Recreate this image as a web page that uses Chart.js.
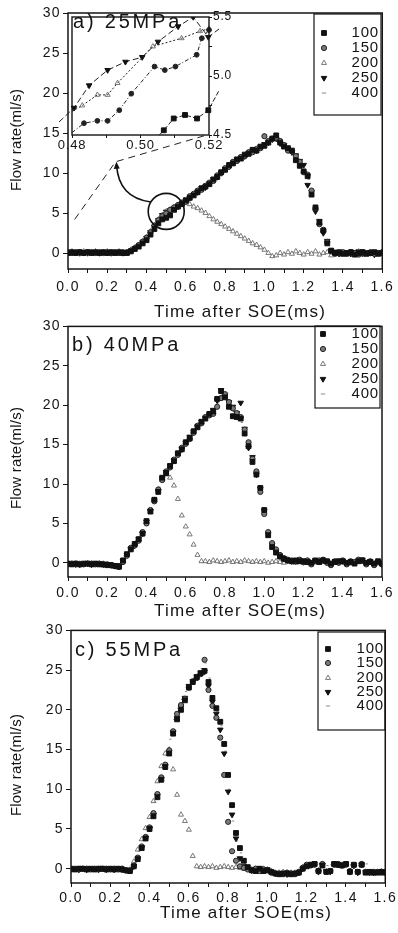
<!DOCTYPE html>
<html>
<head>
<meta charset="utf-8">
<script src="https://cdn.jsdelivr.net/npm/chart.js@4.4.1/dist/chart.umd.min.js"></script>
<style>
  body { margin: 0; background: #fff; }
  #wrap { position: relative; width: 398px; height: 933px; overflow: hidden; }
  #wrap canvas { position: absolute; }
</style>
</head>
<body>
<div id="wrap">
  <canvas id="cA" width="398" height="326" style="left:0;top:0"></canvas>
  <canvas id="cI" width="200" height="160" style="left:50px;top:0"></canvas>
  <canvas id="cB" width="398" height="304" style="left:0;top:316px"></canvas>
  <canvas id="cC" width="398" height="313" style="left:0;top:620px"></canvas>
</div>
<script>
// ---- data ----
const seriesNames = ['100', '150', '200', '250', '400'];
const xMajor = [0, 0.2, 0.4, 0.6, 0.8, 1.0, 1.2, 1.4, 1.6];
const xMinor = [0.1, 0.3, 0.5, 0.7, 0.9, 1.1, 1.3, 1.5];
const yMajor = [0, 5, 10, 15, 20, 25, 30];

// time after SOE (ms), shared by all series
const time = [0,0.02,0.04,0.06,0.08,0.1,0.12,0.14,0.16,0.18,
  0.2,0.22,0.24,0.26,0.28,0.3,0.32,0.34,0.36,0.38,
  0.4,0.42,0.44,0.46,0.48,0.5,0.52,0.54,0.56,0.58,
  0.6,0.62,0.64,0.66,0.68,0.7,0.72,0.74,0.76,0.78,
  0.8,0.82,0.84,0.86,0.88,0.9,0.92,0.94,0.96,0.98,
  1,1.02,1.04,1.06,1.08,1.1,1.12,1.14,1.16,1.18,
  1.2,1.22,1.24,1.26,1.28,1.3,1.32,1.34,1.36,1.38,
  1.4,1.42,1.44,1.46,1.48,1.5,1.52,1.54,1.56,1.58,1.6];

// a) 25 MPa
const a100 = [0.0,0.1,0.0,0.1,0.0,0.1,0.0,0.1,0.0,0.1,
  0.0,0.1,0.0,0.1,0.0,0.0,0.2,0.5,0.8,1.2,
  1.6,2.3,3.0,3.7,4.2,4.4,4.7,5.4,5.8,6.1,
  6.6,6.9,7.2,7.6,8.1,8.3,8.6,9.2,9.5,10.1,
  10.4,11.0,11.2,11.7,11.8,12.3,12.4,12.9,12.8,13.3,
  13.4,13.8,14.3,14.7,13.8,13.3,13.1,12.8,11.6,10.9,
  10.2,9.6,7.3,5.7,3.8,2.8,1.2,0.3,0.0,0.1,
  -0.1,0.0,0.1,-0.2,0.0,0.1,-0.1,0.0,0.1,-0.1,0.0];
const a150 = [0.1,0.0,0.1,0.1,0.0,0.1,0.1,0.0,0.1,0.0,
  0.1,0.0,0.1,0.0,0.1,0.1,0.3,0.6,1.0,1.4,
  1.9,2.6,3.4,4.1,4.6,4.95,5.4,5.7,6.0,6.3,
  6.4,7.1,7.4,7.8,7.9,8.4,8.8,9.0,9.7,10.0,
  10.6,10.8,11.4,11.5,12.0,12.1,12.6,12.6,13.0,13.1,
  14.6,14.0,14.3,14.4,14.0,13.5,12.8,12.7,12.1,11.4,
  10.1,9.8,7.8,5.6,3.6,2.9,1.4,0.2,-0.1,0.0,
  0.1,-0.1,0.1,0.0,-0.2,0.1,0.0,0.1,-0.1,0.0,0.1];
const a200 = [0.1,0.2,0.1,0.1,0.2,0.1,0.1,0.2,0.1,0.1,
  0.2,0.1,0.1,0.2,0.0,0.1,0.4,0.7,1.0,1.5,
  2.0,2.7,3.5,4.2,4.75,5.2,5.4,5.7,6.0,6.3,
  6.4,6.1,5.8,5.6,5.3,5.0,4.6,4.2,3.9,3.6,
  3.3,3.0,2.7,2.4,2.1,1.8,1.5,1.2,1.0,0.7,
  0.4,0.0,-0.4,-0.3,0.0,-0.2,0.1,-0.1,0.2,0.0,
  -0.2,0.1,-0.1,0.2,-0.2,0.0,0.1,-0.3,0.1,-0.1,
  0.0,-0.2,0.1,-0.1,0.2,-0.2,0.0,0.1,-0.1,0.0,0.1];
const a250 = [0.0,0.1,0.1,0.0,0.1,0.0,0.1,0.1,0.0,0.1,
  0.1,0.0,0.1,0.1,0.0,0.1,0.3,0.6,0.9,1.4,
  1.9,2.6,3.3,4.1,4.73,5.16,5.33,5.6,5.8,6.2,
  6.5,6.9,7.3,7.6,8.1,8.2,8.7,9.2,9.5,10.0,
  10.5,10.8,11.3,11.7,11.9,12.1,12.5,12.8,12.8,13.3,
  13.6,13.8,14.2,14.3,13.7,13.5,12.9,12.6,12.2,11.5,
  11.0,8.5,7.6,5.2,4.0,2.5,1.5,0.3,0.1,-0.1,
  0.1,0.0,-0.1,0.1,0.2,-0.1,0.1,0.0,-0.2,0.1,0.0];
const a400 = [0.1,0.1,0.0,0.1,0.1,0.1,0.0,0.1,0.1,0.1,
  0.0,0.1,0.1,0.0,0.1,0.1,0.3,0.6,0.9,1.3,
  1.8,2.5,3.3,4.0,4.8,5.3,5.5,5.7,6.0,6.3,
  6.6,7.0,7.4,7.7,8.0,8.4,8.8,9.1,9.6,10.1,
  10.5,10.9,11.2,11.6,11.9,12.2,12.4,12.7,13.0,13.2,
  13.5,13.9,14.2,14.4,13.8,13.6,13.0,12.5,12.0,11.3,
  10.4,9.2,7.4,5.5,3.9,2.6,1.3,0.2,0.0,0.1,
  -0.1,0.1,0.0,-0.1,0.1,0.2,-0.1,0.0,0.1,-0.1,0.1];

// b) 40 MPa
const b100 = [-0.1,-0.2,-0.1,-0.2,-0.1,-0.1,-0.2,-0.1,-0.2,-0.2,
  -0.3,-0.3,-0.4,-0.5,0.3,1.1,1.7,2.4,3.0,3.7,
  5.3,6.5,8.0,9.0,10.8,11.4,12.3,12.9,13.9,14.4,
  15.3,15.8,16.7,17.2,17.9,18.3,18.9,19.2,20.8,21.8,
  21.0,19.8,18.6,18.5,18.3,16.4,14.8,12.8,11.2,9.5,
  6.7,3.5,2.0,1.3,0.8,0.5,0.3,0.2,0.3,0.2,
  0.2,0.1,0.0,0.3,0.1,0.3,0.2,-0.1,0.1,0.2,
  0.2,0.0,0.1,-0.1,0.2,0.3,0.0,0.1,-0.1,0.2,-0.1];
const b150 = [-0.2,-0.1,-0.1,-0.2,-0.2,-0.1,-0.1,-0.2,-0.1,-0.2,
  -0.2,-0.3,-0.4,-0.4,0.1,0.9,1.9,2.2,2.8,3.9,
  5.0,6.7,7.8,9.3,10.5,11.6,12.1,13.1,13.7,14.6,
  15.1,15.7,16.5,17.4,17.7,18.5,18.7,18.9,19.8,20.9,
  21.4,20.4,19.6,19.0,18.5,16.9,15.3,13.2,11.6,9.0,
  6.2,3.9,2.5,1.7,1.0,0.6,0.4,0.3,0.2,0.4,
  0.1,0.3,-0.2,0.2,0.3,0.4,0.0,-0.3,0.2,0.0,
  0.3,-0.2,0.2,0.1,0.4,0.3,-0.2,0.2,-0.3,0.1,-0.2];
const b200 = [-0.1,-0.1,-0.2,-0.1,-0.2,-0.1,-0.1,-0.2,-0.1,-0.1,
  -0.2,-0.3,-0.4,-0.4,0.3,1.0,1.8,2.4,3.0,3.8,
  5.1,6.5,8.0,9.3,10.5,11.2,10.8,9.8,8.1,6.0,
  4.6,3.6,2.3,1.0,0.2,0.2,0.1,0.3,0.2,0.1,
  0.2,0.3,0.1,0.2,0.1,0.3,0.2,0.1,0.2,0.1,
  0.2,0.0,0.1,0.2,0.1,0.0,0.2,0.1,0.0,0.1,
  0.0,0.1,-0.1,0.1,0.0,0.2,0.1,-0.1,0.0,0.1,
  0.1,-0.1,0.0,0.1,0.2,0.1,-0.1,0.0,-0.1,0.1,-0.1];
const b250 = [-0.1,-0.1,-0.2,-0.2,-0.1,-0.1,-0.2,-0.1,-0.1,-0.2,
  -0.2,-0.3,-0.4,-0.5,0.2,1.0,1.8,2.2,3.0,3.7,
  5.2,6.6,7.9,9.1,10.7,11.5,12.3,13.0,13.8,14.4,
  15.2,16.0,16.6,17.3,17.9,18.4,18.8,19.4,20.6,21.9,
  21.3,20.4,19.8,19.0,20.3,17.0,14.6,13.4,11.2,9.4,
  6.6,3.7,2.3,1.4,0.9,0.5,0.3,0.2,0.2,0.3,
  0.1,0.2,0.0,0.3,0.2,0.3,0.1,-0.1,0.2,0.1,
  0.2,0.0,0.1,0.1,0.3,0.4,0.0,0.2,-0.1,0.1,-0.2];
const b400 = [-0.1,-0.1,-0.1,-0.2,-0.1,-0.1,-0.2,-0.1,-0.2,-0.1,
  -0.2,-0.3,-0.4,-0.5,0.4,1.2,2.0,2.5,3.2,4.0,
  5.5,6.9,8.2,9.6,10.9,11.8,12.5,13.2,14.0,14.7,
  15.4,16.1,16.8,17.5,18.0,18.5,18.9,19.5,20.3,21.3,
  21.0,20.0,19.2,18.6,17.8,16.5,14.9,12.9,11.3,9.0,
  6.3,3.6,2.2,1.5,0.8,0.5,0.4,0.4,0.3,0.2,
  0.3,0.2,-0.1,0.3,0.2,0.4,0.2,-0.2,0.3,0.2,
  0.3,0.0,0.2,-0.1,0.3,0.5,-0.1,0.3,-0.2,0.2,-0.3];

// c) 55 MPa
const c100 = [0.0,-0.1,0.0,0.0,-0.1,0.0,-0.1,0.0,0.0,-0.1,
  0.0,-0.1,0.0,-0.1,-0.2,-0.3,0.3,1.2,2.6,3.8,
  5.0,6.6,9.0,11.2,12.8,14.5,17.0,18.8,20.0,21.2,
  22.8,23.5,24.1,24.6,24.9,23.5,21.5,20.2,18.5,15.7,
  11.8,8.0,4.5,2.6,1.0,0.2,-0.2,-0.3,0.0,-0.3,
  -0.2,-0.4,-0.6,-0.7,-0.6,-0.6,-0.7,-0.6,-0.5,0.0,
  0.3,0.5,0.6,-0.3,0.4,-0.4,-0.3,0.6,0.5,0.4,
  0.6,-0.4,0.5,-0.4,0.5,-0.5,-0.4,-0.5,-0.5,-0.4,-0.5];
const c150 = [-0.1,0.0,-0.1,0.0,0.0,-0.1,0.0,-0.1,0.0,0.0,
  -0.1,0.0,-0.1,0.0,-0.2,-0.2,0.4,1.4,2.8,4.0,
  5.2,7.0,9.4,11.5,13.1,14.9,17.3,19.5,20.6,21.4,
  22.8,23.6,24.0,24.5,26.3,22.5,20.5,19.0,16.5,11.8,
  5.9,2.2,1.0,0.3,0.1,-0.1,-0.2,0.0,-0.3,-0.1,
  -0.2,-0.5,-0.6,-0.6,-0.7,-0.5,-0.6,-0.7,-0.4,0.1,
  0.5,0.4,0.5,-0.3,0.6,-0.4,-0.3,0.5,0.6,0.4,
  0.5,-0.3,0.4,-0.4,0.6,-0.4,-0.5,-0.4,-0.4,-0.5,-0.4];
const c200 = [0.0,-0.1,0.0,-0.1,0.0,-0.1,0.0,0.0,-0.1,0.0,
  -0.1,0.0,-0.1,0.0,-0.2,-0.1,0.9,2.4,3.7,5.1,
  6.5,8.5,11.0,12.9,14.5,15.0,12.5,9.3,6.8,6.0,
  4.9,1.6,0.3,0.2,0.3,0.2,0.3,0.1,0.2,0.3,
  0.2,0.1,0.2,0.1,0.0,0.1,-0.1,0.0,-0.1,0.0,
  -0.1,-0.3,-0.5,-0.5,-0.4,-0.5,-0.5,-0.5,-0.4,0.2,
  0.4,0.5,0.5,-0.2,0.5,-0.3,-0.3,0.5,0.4,0.5,
  0.5,-0.3,0.4,-0.4,0.5,-0.4,-0.4,-0.4,-0.4,-0.3,-0.4];
const c250 = [0.0,0.0,-0.1,0.0,-0.1,0.0,0.0,-0.1,0.0,-0.1,
  0.0,-0.1,0.0,-0.1,-0.2,-0.2,0.3,1.3,2.7,3.9,
  5.1,6.8,9.2,11.3,12.9,14.7,17.2,19.0,20.3,21.5,
  23.0,23.6,24.2,24.7,24.8,23.0,21.0,19.5,17.5,14.5,
  9.7,6.8,3.8,1.3,0.3,0.0,-0.2,-0.2,0.0,-0.2,
  -0.1,-0.4,-0.6,-0.6,-0.6,-0.7,-0.6,-0.6,-0.5,0.0,
  0.4,0.5,0.6,-0.4,0.5,-0.3,-0.4,0.6,0.5,0.5,
  0.6,-0.4,0.4,-0.5,0.5,-0.4,-0.5,-0.5,-0.4,-0.4,-0.5];
const c400 = [0.0,0.0,0.0,0.0,0.0,0.0,0.0,0.0,0.0,0.0,
  0.0,0.0,0.0,0.0,-0.1,-0.2,0.8,2.2,3.6,5.0,
  6.4,8.4,10.9,12.8,14.3,16.3,18.8,20.2,21.3,22.3,
  23.2,23.9,24.6,25.2,25.9,24.0,21.5,19.8,18.0,14.8,
  10.0,6.0,3.5,2.0,0.6,0.2,0.1,0.2,0.1,0.2,
  0.1,-0.3,-0.5,-0.6,-0.5,-0.6,-0.5,-0.6,-0.4,0.3,
  0.5,0.6,0.6,0.6,0.5,0.4,0.5,0.6,0.5,0.6,
  0.6,0.5,0.5,0.4,0.5,0.6,-0.4,-0.4,-0.5,-0.4,-0.5];

// inset of a), 0.48-0.52 ms
const insetXTicks = [0.48, 0.49, 0.50, 0.51, 0.52];
const insetXLabels = [0.48, 0.50, 0.52];
const insetYTicks = [4.5, 4.75, 5.0, 5.25, 5.5];
const insetYLabels = [4.5, 5.0, 5.5];
const insetT100 = [0.5055, 0.5068, 0.5097, 0.5130, 0.5165, 0.5198, 0.5228];
const insetV100 = [4.50, 4.54, 4.64, 4.67, 4.64, 4.71, 4.87];
const insetT150 = [0.4800, 0.4835, 0.4874, 0.4904, 0.4938, 0.4973, 0.5041, 0.5071, 0.5102, 0.5164, 0.5179, 0.5200];
const insetV150 = [4.52, 4.60, 4.62, 4.62, 4.71, 4.85, 5.08, 5.05, 5.08, 5.18, 5.32, 5.39];
const insetT200 = [0.4800, 0.4830, 0.4874, 0.4904, 0.4933, 0.5036, 0.5120, 0.5174, 0.5200];
const insetV200 = [4.70, 4.75, 4.84, 4.84, 4.94, 5.25, 5.32, 5.38, 5.40];
const insetT250 = [0.4762, 0.4806, 0.4850, 0.4904, 0.4956, 0.5005, 0.5051, 0.5110, 0.5154, 0.5198, 0.5230];
const insetV250 = [4.61, 4.73, 4.92, 5.05, 5.12, 5.16, 5.29, 5.42, 5.50, 5.33, 5.40];

// ---- styling ----
const font = "'Liberation Sans', Arial, Helvetica, sans-serif";
const ink = '#141414';
const markers = [
  { style: 'rect', r: 3.4, rot: 0, fill: '#111', stroke: '#111', bw: 1 },
  { style: 'circle', r: 2.6, rot: 0, fill: '#7a7a7a', stroke: '#222', bw: 1 },
  { style: 'triangle', r: 2.9, rot: 0, fill: 'rgba(0,0,0,0)', stroke: '#6a6a6a', bw: 0.9 },
  { style: 'triangle', r: 3.2, rot: 180, fill: '#111', stroke: '#111', bw: 1 },
  { style: 'dash', r: 2.2, rot: 0, fill: '#8a8a8a', stroke: '#8a8a8a', bw: 1 }
];

function drawMarker(ctx, m, x, y) {
  ctx.save();
  ctx.fillStyle = m.fill; ctx.strokeStyle = m.stroke; ctx.lineWidth = m.bw;
  ctx.beginPath();
  const r = m.r;
  if (m.style === 'rect') { const s = r * Math.SQRT1_2; ctx.rect(x - s, y - s, 2 * s, 2 * s); }
  else if (m.style === 'circle') ctx.arc(x, y, r, 0, Math.PI * 2);
  else if (m.style === 'triangle') {
    const d = m.rot ? -1 : 1;
    ctx.moveTo(x, y - d * r);
    ctx.lineTo(x - r * 0.866, y + d * r * 0.5);
    ctx.lineTo(x + r * 0.866, y + d * r * 0.5);
    ctx.closePath();
  } else { ctx.moveTo(x - r, y); ctx.lineTo(x + r, y); }
  if (m.style !== 'dash') ctx.fill();
  ctx.stroke();
  ctx.restore();
}

function drawText(ctx, txt, x, y, size, spacing, align) {
  ctx.save();
  ctx.font = size + 'px ' + font;
  ctx.letterSpacing = spacing + 'px';
  ctx.fillStyle = ink;
  ctx.textAlign = align || 'left';
  ctx.textBaseline = 'middle';
  ctx.fillText(txt, x, y);
  ctx.restore();
}

// layout of the three panels (page pixels)
const panels = [
  { id: 'cA', top: 0, h: 326, left: 68, right: 384, pTop: 13, pBot: 269, yMin: -2, tickPad: 6,
    vals: [a100, a150, a200, a250, a400], label: 'a) 25MPa', labelX: 73, labelY: 22,
    yTitleY: 140, xTitleX: 240, xTitleY: 312,
    legend: { x: 314, y: 14, w: 67, h: 101, rows: [33, 48, 63, 78, 93], mx: 324, tx: 379 } },
  { id: 'cB', top: 316, h: 304, left: 68, right: 382, pTop: 323, pBot: 577, yMin: -1.8, tickPad: 4,
    vals: [b100, b150, b200, b250, b400], label: 'b) 40MPa', labelX: 72, labelY: 345,
    yTitleY: 458, xTitleX: 240, xTitleY: 611,
    legend: { x: 315, y: 326, w: 65, h: 82, rows: [334, 349, 364, 379, 394], mx: 323, tx: 379 } },
  { id: 'cC', top: 620, h: 313, left: 71, right: 386, pTop: 630, pBot: 883, yMin: -1.8, tickPad: 3,
    vals: [c100, c150, c200, c250, c400], label: 'c) 55MPa', labelX: 75, labelY: 650,
    yTitleY: 765, xTitleX: 246, xTitleY: 913,
    legend: { x: 318, y: 632, w: 67, h: 98, rows: [649, 663, 678, 692, 706], mx: 328, tx: 384 } }
];

function drawPanelLabel(ctx, p, dx, dy) {
  drawText(ctx, p.label, p.labelX - dx, p.labelY - dy, 20, 2.8, 'left');
}

function framePlugin(p) {
  return {
    id: 'frame' + p.id,
    beforeDraw(chart) { chart.ctx.letterSpacing = '1.4px'; },
    afterDatasetsDraw(chart) {
      if (p.id !== 'cA') return;
      // zoom circle, arrow and link to the inset
      const ctx = chart.ctx, xs = chart.scales.x, ys = chart.scales.y;
      const linkX = [0.034, 0.242, 0.714], linkY = [4.2, 11.4, 14.8];
      ctx.save();
      ctx.strokeStyle = '#222'; ctx.lineWidth = 1;
      ctx.setLineDash([7, 5]);
      ctx.beginPath();
      linkX.forEach((v, i) => {
        const px = xs.getPixelForValue(v), py = ys.getPixelForValue(linkY[i]);
        i ? ctx.lineTo(px, py) : ctx.moveTo(px, py);
      });
      ctx.stroke();
      ctx.setLineDash([]);
      const cx = xs.getPixelForValue(0.5), cy = ys.getPixelForValue(5.2), r = 18;
      ctx.lineWidth = 1.6; ctx.strokeStyle = '#111';
      ctx.beginPath(); ctx.arc(cx, cy, r, 0, Math.PI * 2); ctx.stroke();
      const sx = cx - r * Math.cos(0.55), sy = cy - r * Math.sin(0.55);
      const ex = xs.getPixelForValue(0.242) + 1, ey = ys.getPixelForValue(11.4) + 3;
      const kx = ex + 2, ky = sy - 4;
      ctx.beginPath(); ctx.moveTo(sx, sy); ctx.quadraticCurveTo(kx, ky, ex, ey); ctx.stroke();
      const ang = Math.atan2(ey - ky, ex - kx);
      ctx.fillStyle = '#111';
      ctx.beginPath();
      ctx.moveTo(ex + Math.cos(ang) * 3, ey + Math.sin(ang) * 3);
      ctx.lineTo(ex - Math.cos(ang) * 4 + Math.sin(ang) * 3, ey - Math.sin(ang) * 4 - Math.cos(ang) * 3);
      ctx.lineTo(ex - Math.cos(ang) * 4 - Math.sin(ang) * 3, ey - Math.sin(ang) * 4 + Math.cos(ang) * 3);
      ctx.closePath(); ctx.fill();
      ctx.restore();
    },
    afterDraw(chart) {
      const ctx = chart.ctx, a = chart.chartArea, t = p.top;
      ctx.save();
      ctx.strokeStyle = ink; ctx.lineWidth = 1.5;
      ctx.strokeRect(a.left, a.top, a.right - a.left, a.bottom - a.top);
      // legend
      const L = p.legend;
      ctx.lineWidth = 1.2;
      ctx.strokeRect(L.x, L.y - t, L.w, L.h);
      seriesNames.forEach((n, i) => {
        drawMarker(ctx, markers[i], L.mx, L.rows[i] - t);
        drawText(ctx, n, L.tx, L.rows[i] - t, 15, 0.8, 'right');
      });
      // axis titles
      ctx.save();
      ctx.translate(17, p.yTitleY - t);
      ctx.rotate(-Math.PI / 2);
      drawText(ctx, 'Flow rate(ml/s)', 0, 0, 15, 0.2, 'center');
      ctx.restore();
      drawText(ctx, 'Time after SOE(ms)', p.xTitleX, p.xTitleY - t, 17, 1.2, 'center');
      if (p.id !== 'cA') drawPanelLabel(ctx, p, 0, t);
      ctx.restore();
    }
  };
}

function buildPanel(p) {
  const datasets = seriesNames.map((name, i) => {
    const m = markers[i];
    return {
      label: name,
      data: time.map((t, k) => ({ x: t, y: p.vals[i][k] })),
      showLine: false,
      pointStyle: m.style,
      pointRotation: m.rot,
      pointRadius: m.r,
      pointBackgroundColor: m.fill,
      pointBorderColor: m.stroke,
      pointBorderWidth: m.bw
    };
  });
  const tickFont = { family: font, size: 14 };
  return new Chart(document.getElementById(p.id), {
    type: 'scatter',
    data: { datasets },
    options: {
      responsive: false, animation: false, events: [],
      layout: { padding: { left: 0, right: 398 - p.right, top: p.pTop - p.top, bottom: 0 } },
      plugins: { legend: { display: false }, tooltip: { enabled: false } },
      scales: {
        x: {
          type: 'linear', min: 0, max: 1.6,
          afterBuildTicks: s => { s.ticks = xMajor.concat(xMinor).sort((u, v) => u - v).map(v => ({ value: v })); },
          afterFit: s => { s.height = p.h - (p.pBot - p.top); },
          ticks: { callback: v => xMajor.indexOf(v) >= 0 ? v.toFixed(1) : '', font: tickFont, color: ink,
                   padding: p.tickPad, maxRotation: 0, autoSkip: false },
          grid: { drawOnChartArea: false, tickLength: 4, color: ink, lineWidth: 1 },
          border: { display: false }
        },
        y: {
          type: 'linear', min: p.yMin, max: 30,
          afterBuildTicks: s => { s.ticks = yMajor.map(v => ({ value: v })); },
          afterFit: s => { s.width = p.left; },
          ticks: { font: tickFont, color: ink, padding: 2 },
          grid: { drawOnChartArea: false, tickLength: 5, color: ink, lineWidth: 1 },
          border: { display: false }
        }
      }
    },
    plugins: [framePlugin(p)]
  });
}

panels.forEach(buildPanel);

// ---- inset of panel a ----
const insetLines = [
  { xs: insetT100, ys: insetV100, dash: [5, 2], m: markers[0], hide: [0, 6] },
  { xs: insetT150, ys: insetV150, dash: [4, 2, 1, 2], m: { ...markers[1], fill: '#222', r: 2.4 }, hide: [0] },
  { xs: insetT200, ys: insetV200, dash: [2, 2], m: markers[2], hide: [0] },
  { xs: insetT250, ys: insetV250, dash: [6, 3], m: markers[3], hide: [0, 10] }
];
const inset = { left: 72, right: 209, top: 17, bottom: 135, cx: 50, cy: 0, w: 200, h: 160 };
new Chart(document.getElementById('cI'), {
  type: 'scatter',
  data: {
    datasets: insetLines.map((s, i) => ({
      label: seriesNames[i],
      data: s.xs.map((x, k) => ({ x, y: s.ys[k] })),
      showLine: true, borderColor: '#222', borderWidth: 1, borderDash: s.dash,
      pointStyle: s.m.style, pointRotation: s.m.rot,
      pointRadius: s.xs.map((x, k) => s.hide.indexOf(k) >= 0 ? 0 : s.m.r),
      pointBackgroundColor: s.m.fill, pointBorderColor: s.m.stroke, pointBorderWidth: s.m.bw,
      clip: { left: 20, top: 0, right: 10, bottom: 0 }
    }))
  },
  options: {
    responsive: false, animation: false, events: [],
    layout: { padding: { left: inset.left - inset.cx, right: 0, top: inset.top - inset.cy, bottom: 0 } },
    plugins: { legend: { display: false }, tooltip: { enabled: false } },
    scales: {
      x: {
        type: 'linear', min: 0.48, max: 0.52,
        afterBuildTicks: s => { s.ticks = insetXTicks.map(v => ({ value: v })); },
        afterFit: s => { s.height = inset.h - (inset.bottom - inset.cy); },
        ticks: { callback: v => insetXLabels.indexOf(v) >= 0 ? v.toFixed(2) : '', font: { family: font, size: 13 },
                 color: ink, padding: 0, maxRotation: 0, autoSkip: false },
        grid: { drawOnChartArea: false, tickLength: 3, color: ink },
        border: { display: false }
      },
      y: {
        type: 'linear', position: 'right', min: 4.5, max: 5.5,
        afterBuildTicks: s => { s.ticks = insetYTicks.map(v => ({ value: v })); },
        afterFit: s => { s.width = inset.w - (inset.right - inset.cx); },
        ticks: { callback: v => insetYLabels.indexOf(v) >= 0 ? v.toFixed(1) : '', font: { family: font, size: 12 },
                 color: ink, padding: 1 },
        grid: { drawOnChartArea: false, tickLength: 3, color: ink },
        border: { display: false }
      }
    }
  },
  plugins: [{
    id: 'insetFrame',
    beforeDraw(chart) {
      const a = chart.chartArea, ctx = chart.ctx;
      ctx.letterSpacing = '0.8px';
      ctx.save(); ctx.fillStyle = '#fff';
      ctx.fillRect(a.left, a.top, a.right - a.left, a.bottom - a.top);
      ctx.restore();
    },
    afterDraw(chart) {
      const a = chart.chartArea, ctx = chart.ctx;
      ctx.save(); ctx.strokeStyle = ink; ctx.lineWidth = 1.4;
      ctx.strokeRect(a.left, a.top, a.right - a.left, a.bottom - a.top);
      ctx.restore();
      drawPanelLabel(ctx, panels[0], inset.cx, inset.cy);
    }
  }]
});
</script>
</body>
</html>
